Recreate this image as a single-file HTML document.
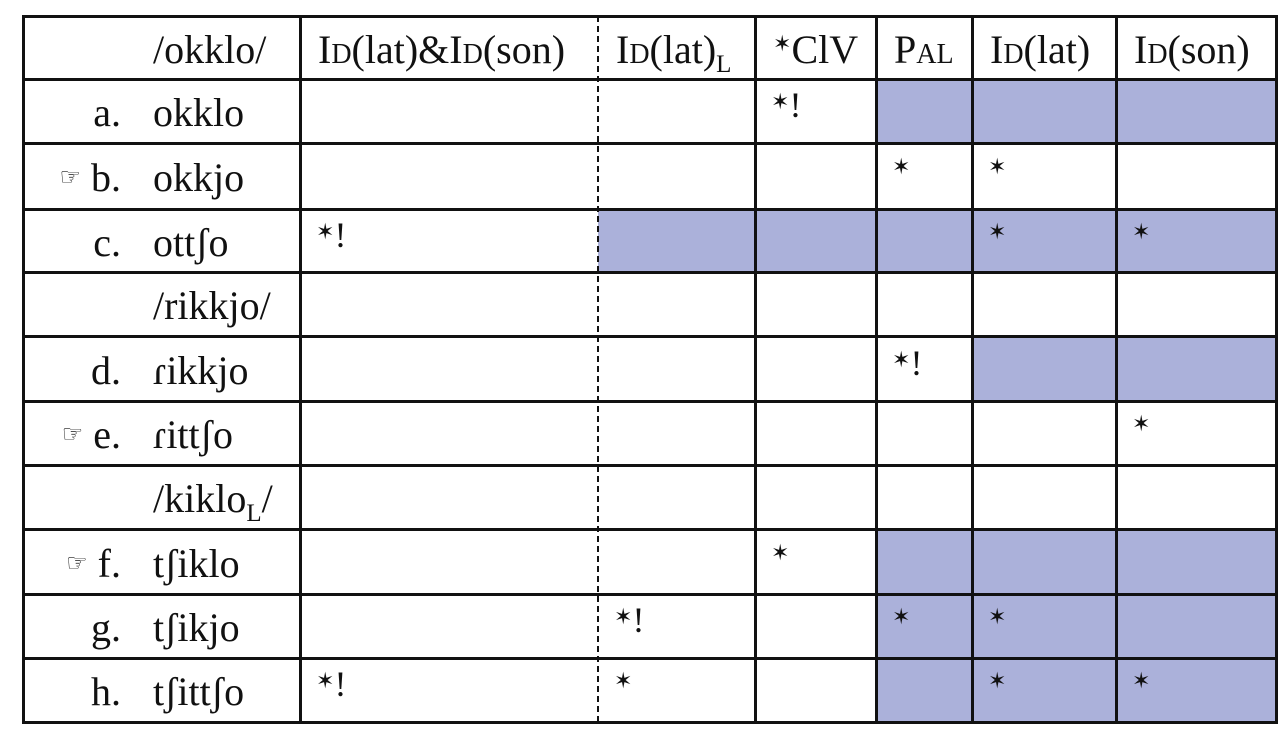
<!DOCTYPE html>
<html><head><meta charset="utf-8"><style>
body{margin:0;width:1279px;height:744px;background:#fff;position:relative;overflow:hidden;font-family:"Liberation Serif","DejaVu Serif",serif;color:#111}
.sh{position:absolute;background:#abb1da}
.hl{position:absolute;height:3px;background:#111}
.vl{position:absolute;width:3px;background:#111}
.sc{font-variant:small-caps}
sub{font-size:25px;vertical-align:-9px;line-height:0}
.t{position:absolute;white-space:nowrap;font-size:40px;line-height:1}
</style></head><body>
<div id="tab"></div>
<script>
const cols=[23,300,598,755,876,972,1116,1276];
const rows=[16,79,143,209,272,336,401,465,529,594,658,722];
const shade=[[],[4,5,6],[],[2,3,4,5,6],[],[5,6],[],[],[4,5,6],[4,5,6],[4,5,6]];
const labels=['','a.','☞ b.','c.','','d.','☞ e.','','☞ f.','g.','h.'];
const cands=['/okklo/','okklo','okkjo','ott&#643;o','/rikkjo/','&#638;ikkjo','&#638;itt&#643;o','/kiklo<sub>L</sub>/','t&#643;iklo','t&#643;ikjo','t&#643;itt&#643;o'];
const headers=['<span class="sc">Id</span>(lat)&amp;<span class="sc">Id</span>(son)','<span class="sc">Id</span>(lat)<sub>L</sub>','<span style="font-family:\'DejaVu Sans\';font-size:22px;vertical-align:12px">&#10038;</span>ClV','<span class="sc">Pal</span>','<span class="sc">Id</span>(lat)','<span class="sc">Id</span>(son)'];
const marks=[[],['','','*!','','',''],['','','','*','*',''],['*!','','','','*','*'],[],['','','','*!','',''],['','','','','','*'],[],['','','*','','',''],['','*!','','*','*',''],['*!','*','','','*','*']];
const tab=document.getElementById('tab');
let h='';
shade.forEach((s,r)=>s.forEach(c=>{h+=`<div class="sh" style="left:${cols[c]}px;top:${rows[r]}px;width:${cols[c+1]-cols[c]}px;height:${rows[r+1]-rows[r]}px"></div>`;}));
rows.forEach(y=>{h+=`<div class="hl" style="left:${cols[0]-1}px;top:${y-1}px;width:${cols[7]-cols[0]+3}px"></div>`;});
cols.forEach((x,i)=>{if(i===2){h+=`<div style="position:absolute;left:${x-1}px;top:${rows[0]}px;height:${rows[11]-rows[0]}px;border-left:2px dashed #111"></div>`;}else h+=`<div class="vl" style="left:${x-1}px;top:${rows[0]-1}px;height:${rows[11]-rows[0]+3}px"></div>`;});
for(let r=0;r<11;r++){
 const base=rows[r]+(rows[r+1]-rows[r])*0.5-18;
 h+=`<div class="t" style="right:${1279-121}px;top:${base}px">${labels[r].replace('☞','<span style="font-family:\'DejaVu Sans\';font-size:24px;vertical-align:6px">&#9758;</span>')}</div>`;
 h+=`<div class="t" style="left:153px;top:${base}px">${cands[r]}</div>`;
 if(r===0){headers.forEach((t,i)=>{h+=`<div class="t" style="left:${cols[i+1]+18}px;top:${base}px">${t}</div>`;});}
 else (marks[r]||[]).forEach((m,i)=>{if(m)h+=`<div class="t" style="left:${cols[i+1]+16}px;top:${base-6}px;font-size:36px">${m.replace('*','<span style="font-family:\'DejaVu Sans\';font-size:22px;vertical-align:8px">&#10038;</span>')}</div>`;});
}
tab.innerHTML=h;
</script>
</body></html>
